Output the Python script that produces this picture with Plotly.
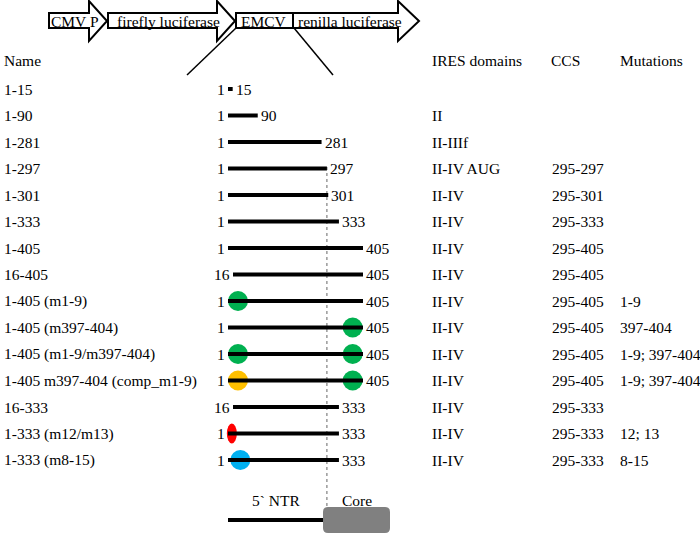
import plotly.graph_objects as go

# ---------------- data ----------------
names = ["1-15", "1-90", "1-281", "1-297", "1-301", "1-333", "1-405", "16-405",
         "1-405 (m1-9)", "1-405 (m397-404)", "1-405 (m1-9/m397-404)",
         "1-405 m397-404 (comp_m1-9)", "16-333", "1-333 (m12/m13)", "1-333 (m8-15)"]
starts = [1, 1, 1, 1, 1, 1, 1, 16, 1, 1, 1, 1, 16, 1, 1]
ends = [15, 90, 281, 297, 301, 333, 405, 405, 405, 405, 405, 405, 333, 333, 333]
domains = ["", "II", "II-IIIf", "II-IV AUG", "II-IV", "II-IV", "II-IV", "II-IV",
           "II-IV", "II-IV", "II-IV", "II-IV", "II-IV", "II-IV", "II-IV"]
ccs = ["", "", "", "295-297", "295-301", "295-333", "295-405", "295-405",
       "295-405", "295-405", "295-405", "295-405", "295-333", "295-333", "295-333"]
mutations = ["", "", "", "", "", "", "", "", "1-9", "397-404", "1-9; 397-404",
             "1-9; 397-404", "", "12; 13", "8-15"]

mut_rows = [8, 9, 10, 10, 11, 11, 13, 14]
mut_start = [1, 397, 1, 397, 1, 397, 12, 8]
mut_end = [9, 404, 9, 404, 9, 404, 13, 15]
mut_color = ["#00B050", "#00B050", "#00B050", "#00B050", "#FFC000", "#00B050",
             "#FF0000", "#00B0F0"]
mut_kind = ["circle", "circle", "circle", "circle", "circle", "circle", "ellipse", "circle"]

ccs_mark = 297
headers = ["Name", "IRES domains", "CCS", "Mutations"]
construct = ["CMV P", "firefly luciferase", "EMCV", "renilla luciferase"]
legend_labels = ["5` NTR", "Core"]

# ---------------- layout helpers ----------------
W, H = 700, 534
FONT = "Liberation Serif, Times New Roman, serif"
FS = 15.5
row_px0, row_step = 89, 26.5          # pixel y of first row, spacing
nt_px0, nt_px1 = 228, 363             # pixel x of nt 1 and nt 405
px_per_nt = (nt_px1 - nt_px0) / (405 - 1)
x_range = [1 - nt_px0 / px_per_nt, 1 + (W - nt_px0) / px_per_nt]
y_range = [(H - row_px0) / row_step, -row_px0 / row_step]

fig = go.Figure()

# dashed CCS marker line (under segments)
shapes = [dict(type="line", xref="x", yref="y2", x0=ccs_mark, x1=ccs_mark, y0=167, y1=513,
               line=dict(color="#666666", width=1, dash="dot"), layer="below")]

# mutation marks
for r, s, e, c, k in zip(mut_rows, mut_start, mut_end, mut_color, mut_kind):
    w = 20 if k == "circle" else 10
    if s < 200:
        anchor, x0, x1 = s, 0, w
    else:
        anchor, x0, x1 = e, -w, 0
    if k == "ellipse":
        anchor, x0, x1 = (s + e) / 2, -w / 2, w / 2
    shapes.append(dict(type="circle", xref="x", yref="y", xsizemode="pixel", ysizemode="pixel",
                       xanchor=anchor, yanchor=r, x0=x0, x1=x1, y0=-10, y1=10,
                       fillcolor=c, line=dict(width=0), layer="below"))

# segments
for i, (s, e) in enumerate(zip(starts, ends)):
    fig.add_trace(go.Scatter(x=[s, e], y=[i, i], mode="lines",
                             line=dict(color="black", width=4), hoverinfo="skip",
                             showlegend=False))

annotations = []
def txt(x, y, t, xref="x2", yref="y2", xanchor="left", xshift=0, size=FS):
    annotations.append(dict(x=x, y=y, xref=xref, yref=yref, text=t, showarrow=False,
                            xanchor=xanchor, yanchor="middle", xshift=xshift,
                            font=dict(family=FONT, size=size, color="black")))

# headers
for h, xp in zip(headers, [2, 430, 549, 618]):
    txt(xp, 60, h)

# rows
for i in range(len(names)):
    txt(2, row_px0 + row_step * i, names[i])
    txt(starts[i], i, str(starts[i]), xref="x", yref="y", xanchor="right", xshift=-1)
    txt(ends[i], i, str(ends[i]), xref="x", yref="y", xanchor="left", xshift=1)
    if domains[i]:
        txt(430, row_px0 + row_step * i, domains[i])
    if ccs[i]:
        txt(550, row_px0 + row_step * i, ccs[i])
    if mutations[i]:
        txt(618, row_px0 + row_step * i, mutations[i])

# construct at top
def arrow(xl, xb, xt):
    return (f"M{xl},13 L{xb},13 L{xb},1 L{xt},21 L{xb},41 L{xb},28 L{xl},28 Z")
for p in [arrow(49, 89, 107), arrow(108, 217, 235), arrow(293, 398, 419)]:
    shapes.append(dict(type="path", xref="x2", yref="y2", path=p, fillcolor="white",
                       line=dict(color="black", width=2)))
shapes.append(dict(type="rect", xref="x2", yref="y2", x0=236, x1=293, y0=13, y1=28,
                   fillcolor="white", line=dict(color="black", width=2)))
for xc, t in zip([75, 168, 264, 350], construct):
    annotations.append(dict(x=xc, y=21, xref="x2", yref="y2", text=t, showarrow=False,
                            xanchor="center", yanchor="middle",
                            font=dict(family=FONT, size=FS, color="black")))
shapes.append(dict(type="line", xref="x2", yref="y2", x0=236, y0=28, x1=187, y1=75,
                   line=dict(color="black", width=1.5)))
shapes.append(dict(type="line", xref="x2", yref="y2", x0=294, y0=28, x1=333, y1=75,
                   line=dict(color="black", width=1.5)))

# bottom key
shapes.append(dict(type="line", xref="x2", yref="y2", x0=228, y0=520, x1=323, y1=520,
                   line=dict(color="black", width=4)))
r = 5
x0c, x1c, y0c, y1c = 323, 390, 507, 533
core_path = (f"M{x0c+r},{y0c} L{x1c-r},{y0c} Q{x1c},{y0c} {x1c},{y0c+r} L{x1c},{y1c-r} "
             f"Q{x1c},{y1c} {x1c-r},{y1c} L{x0c+r},{y1c} Q{x0c},{y1c} {x0c},{y1c-r} "
             f"L{x0c},{y0c+r} Q{x0c},{y0c} {x0c+r},{y0c} Z")
shapes.append(dict(type="path", xref="x2", yref="y2", path=core_path,
                   fillcolor="#808080", line=dict(width=0)))
annotations.append(dict(x=276, y=500, xref="x2", yref="y2", text=legend_labels[0],
                        showarrow=False, xanchor="center", yanchor="middle",
                        font=dict(family=FONT, size=FS, color="black")))
annotations.append(dict(x=357, y=500, xref="x2", yref="y2", text=legend_labels[1],
                        showarrow=False, xanchor="center", yanchor="middle",
                        font=dict(family=FONT, size=FS, color="black")))

# invisible trace to activate pixel axes
fig.add_trace(go.Scatter(x=[0], y=[0], xaxis="x2", yaxis="y2", mode="markers",
                         marker=dict(opacity=0), hoverinfo="skip", showlegend=False))

fig.update_layout(
    width=W, height=H, margin=dict(l=0, r=0, t=0, b=0),
    paper_bgcolor="white", plot_bgcolor="white", showlegend=False,
    xaxis=dict(range=x_range, visible=False, fixedrange=True),
    yaxis=dict(range=y_range, visible=False, fixedrange=True),
    xaxis2=dict(range=[0, W], visible=False, overlaying="x", fixedrange=True),
    yaxis2=dict(range=[H, 0], visible=False, overlaying="y", fixedrange=True),
    shapes=shapes, annotations=annotations,
)
fig.write_html("out.html", config={"displayModeBar": False},
               post_script="document.body.style.margin='0px';document.body.style.overflow='hidden';")
